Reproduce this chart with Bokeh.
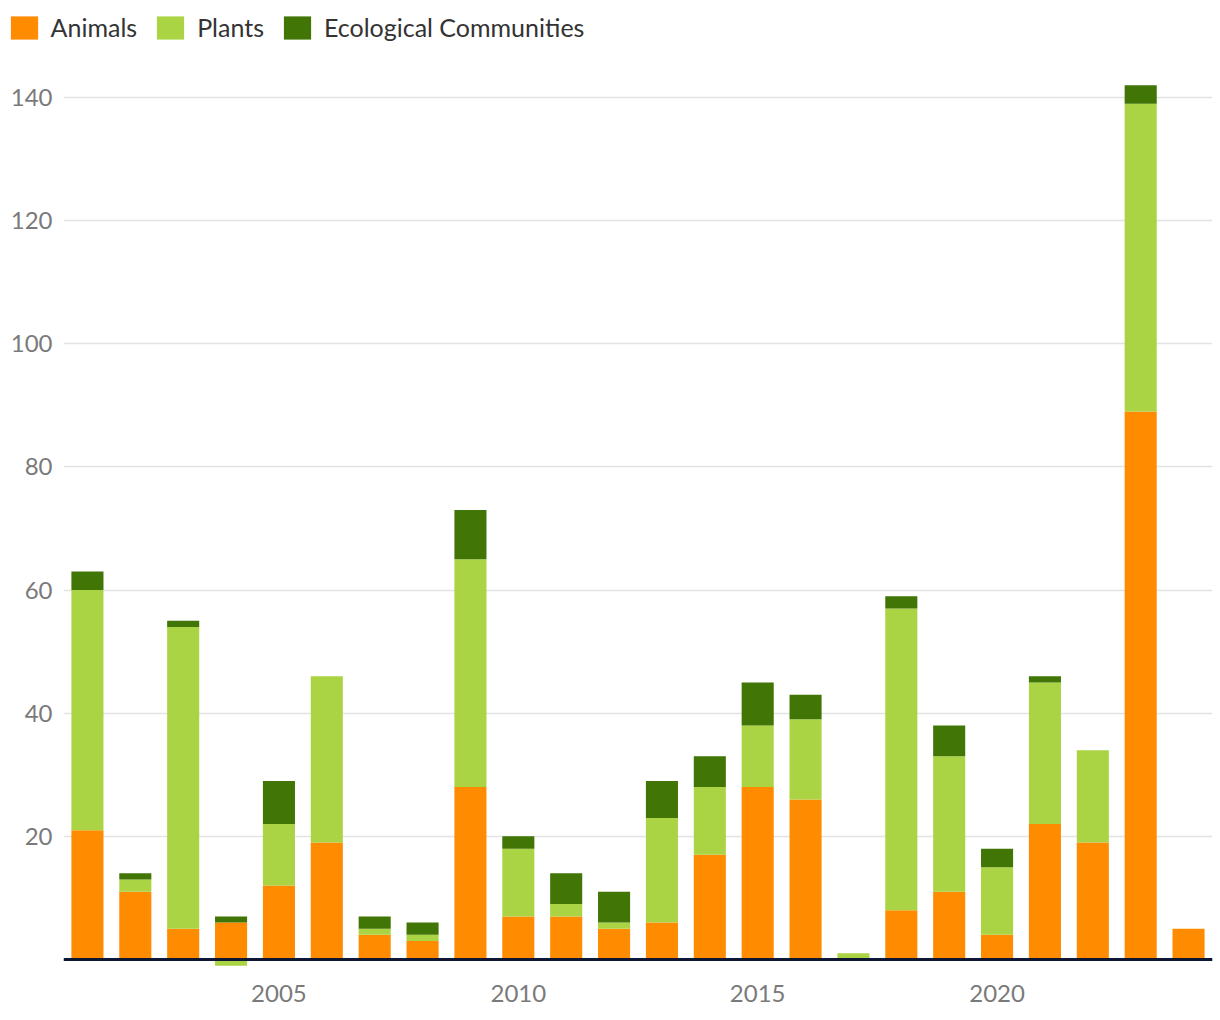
import numpy as np
from bokeh.plotting import figure
from bokeh.models import ColumnDataSource, FixedTicker, Span, Legend, LegendItem, Range1d
from bokeh.embed import file_html
from bokeh.resources import INLINE

years = list(range(2001, 2025))
animals = [21, 11, 5, 6, 12, 19, 4, 3, 28, 7, 7, 5, 6, 17, 28, 26, 0, 8, 11, 4, 22, 19, 89, 5]
plants = [39, 2, 49, -1, 10, 27, 1, 1, 37, 11, 2, 1, 17, 11, 10, 13, 1, 49, 22, 11, 23, 15, 50, 0]
eco = [3, 1, 1, 1, 7, 0, 2, 2, 8, 2, 5, 5, 6, 5, 7, 4, 0, 2, 5, 3, 1, 0, 3, 0]
y_ticks = [20, 40, 60, 80, 100, 120, 140]
x_ticks = [2005, 2010, 2015, 2020]

series = [("Animals", animals, "#ff8b00"),
          ("Plants", plants, "#aad444"),
          ("Ecological Communities", eco, "#417505")]

FONT = "Lato"

# legend strip (separate root so its frame is not aligned with the chart's)
lg = figure(width=1220, height=50, output_backend="svg", toolbar_location=None,
            x_range=Range1d(0, 1), y_range=Range1d(0, 1),
            min_border_left=0, min_border_right=0, min_border_top=0, min_border_bottom=0,
            outline_line_color=None)
lg.axis.visible = False
lg.grid.visible = False

p = figure(width=1220, height=970, output_backend="svg", toolbar_location=None,
           x_range=Range1d(2000.5, 2024.5), y_range=Range1d(-1.787, 146.01),
           min_border_left=63, min_border_right=8, min_border_top=10, min_border_bottom=50)
p.outline_line_color = None
p.background_fill_color = "white"
p.border_fill_color = "white"

pos = np.zeros(len(years))
neg = np.zeros(len(years))
items = []
for name, vals, color in series:
    v = np.array(vals, dtype=float)
    bottom = np.where(v >= 0, pos, neg)
    top = bottom + v
    pos = np.where(v >= 0, top, pos)
    neg = np.where(v < 0, top, neg)
    src = ColumnDataSource(dict(x=years, bottom=bottom, top=top))
    p.vbar(x="x", bottom="bottom", top="top", width=0.67, source=src,
           fill_color=color, line_color=None)
    # proxy renderer (outside the strip's visible range) for the legend swatch
    proxy = lg.vbar(x=[0.5], bottom=[-3], top=[-2], width=0.1,
                    fill_color=color, line_color=None)
    items.append(LegendItem(label=name, renderers=[proxy]))

p.add_layout(Span(location=0, dimension="width", line_color="#0d1733", line_width=3))

legend = Legend(items=items, orientation="horizontal", location=(6.6, 7.6),
                glyph_width=34, glyph_height=29, label_standoff=10, spacing=16,
                padding=0, margin=0, border_line_color=None, background_fill_alpha=0,
                label_text_font=FONT, label_text_font_size="25px", label_text_color="#333333",
                label_height=29)
lg.add_layout(legend, "center")

p.yaxis.ticker = FixedTicker(ticks=y_ticks)
p.xaxis.ticker = FixedTicker(ticks=x_ticks)
for ax in (p.xaxis, p.yaxis):
    ax.axis_line_color = None
    ax.major_tick_line_color = None
    ax.minor_tick_line_color = None
    ax.major_tick_out = 0
    ax.minor_tick_out = 0
    ax.major_label_text_font = FONT
    ax.major_label_text_font_size = "24px"
    ax.major_label_text_color = "#7a7a7a"
p.yaxis.major_label_standoff = 11
p.xaxis.major_label_standoff = 14
p.xgrid.grid_line_color = None
p.ygrid.grid_line_color = "#e3e3e3"
p.ygrid.grid_line_width = 1.5
p.ygrid.ticker = FixedTicker(ticks=y_ticks)

open("out.html", "w").write(file_html((lg, p), INLINE))
